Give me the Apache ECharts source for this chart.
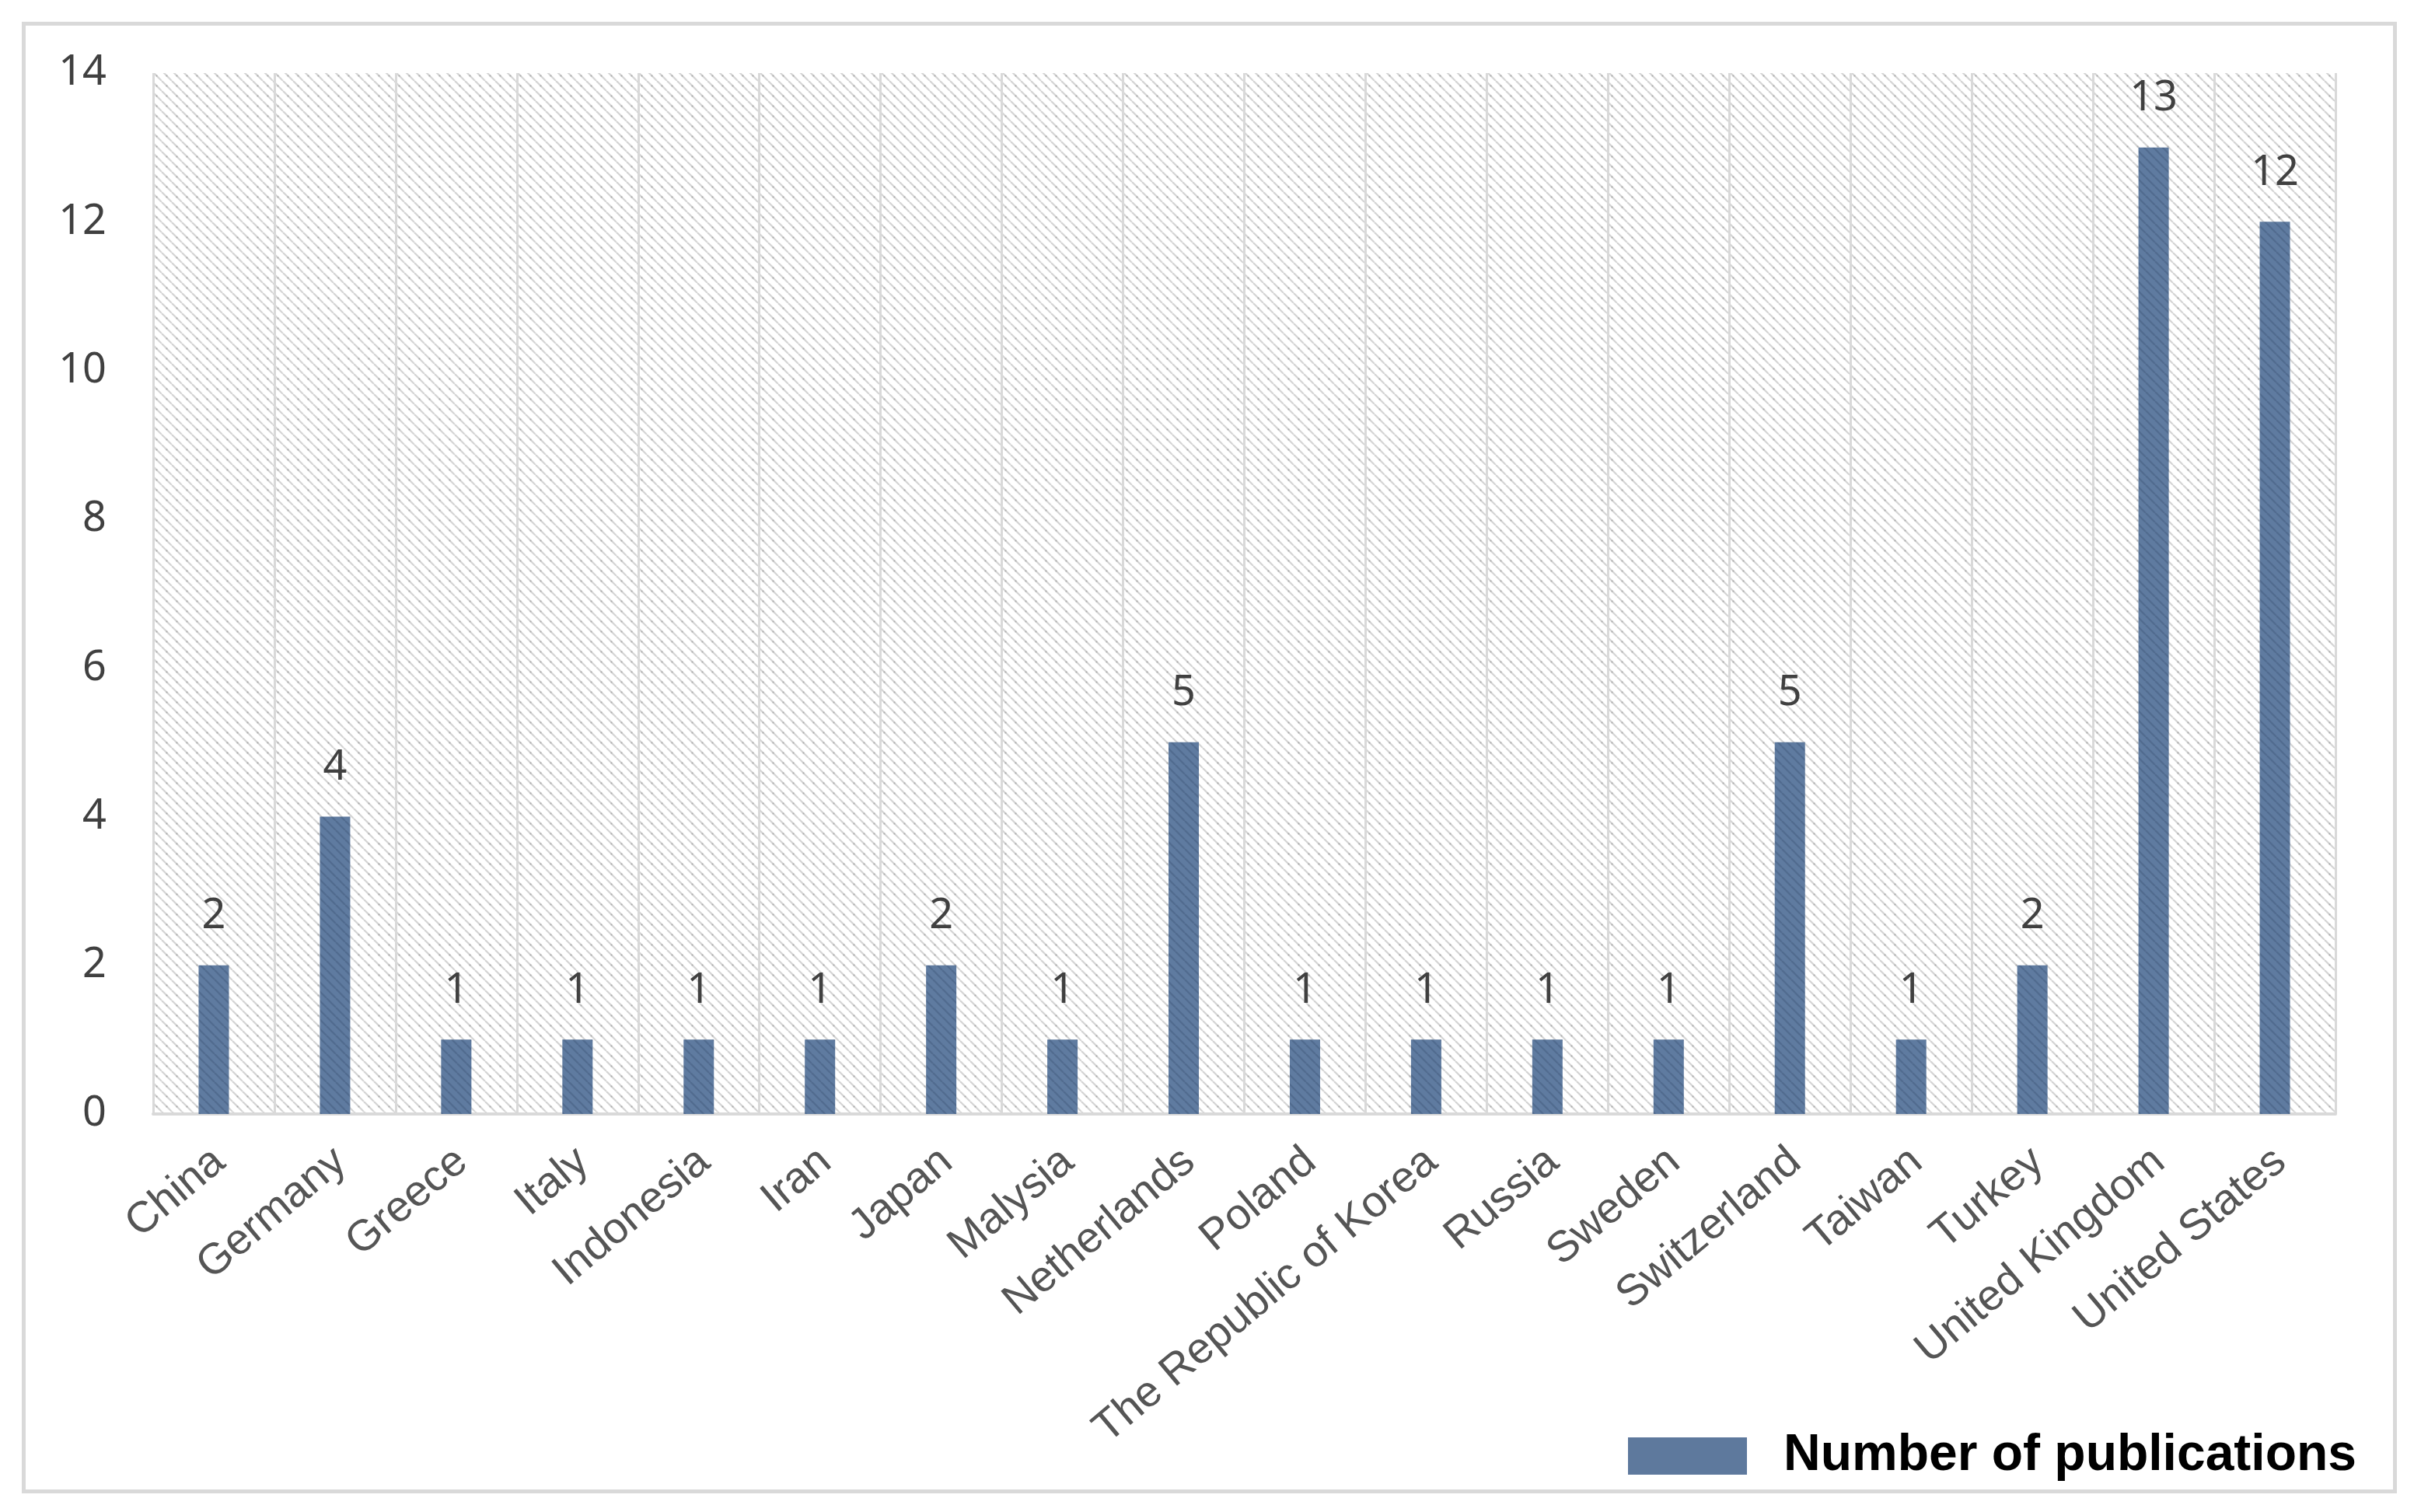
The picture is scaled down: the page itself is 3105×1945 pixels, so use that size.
<!DOCTYPE html>
<html>
<head>
<meta charset="utf-8">
<script src="https://cdn.jsdelivr.net/npm/echarts@6/dist/echarts.min.js"></script>
<style>
html,body{margin:0;padding:0;background:#fff;}
#chart{width:3105px;height:1945px;}
</style>
</head>
<body>
<div id="chart"></div>
<script>
const categories = ['China','Germany','Greece','Italy','Indonesia','Iran','Japan','Malysia','Netherlands','Poland','The Republic of Korea','Russia','Sweden','Switzerland','Taiwan','Turkey','United Kingdom','United States'];
const publications = [2,4,1,1,1,1,2,1,5,1,1,1,1,5,1,2,13,12];
const yTicks = [0,2,4,6,8,10,12,14];
const seriesName = 'Number of publications';

function hatch(size, bg, line, lw, dot) {
  const c = document.createElement('canvas');
  c.width = size; c.height = size;
  const g = c.getContext('2d');
  g.fillStyle = bg; g.fillRect(0,0,size,size);
  g.strokeStyle = line; g.lineWidth = lw;
  for (let k = -1; k <= 1; k++) {
    g.beginPath();
    g.moveTo(k*size, 0);
    g.lineTo(k*size + size, size);
    g.stroke();
  }
  if (dot) {
    g.fillStyle = dot;
    g.fillRect(size/2-1, size/2-1, 2, 2);
  }
  return c;
}

const chart = echarts.init(document.getElementById('chart'));
chart.setOption({
  backgroundColor: '#ffffff',
  animation: false,
  graphic: [{
    type: 'rect', left: 28, top: 28,
    shape: {width: 3050, height: 1888},
    style: {fill: 'none', stroke: '#d9d9d9', lineWidth: 5},
    z: -10
  }],
  grid: {
    left: 197, right: 101, top: 94, bottom: 512,
    show: true, borderWidth: 0,
    backgroundColor: {image: hatch(13, '#ffffff', 'rgba(170,170,170,0.5)', 2.2, 'rgba(150,150,150,0.6)'), repeat: 'repeat'}
  },
  legend: {
    left: 2089, top: 1835,
    itemWidth: 153, itemHeight: 48,
    icon: 'rect',
    data: [{name: seriesName, itemStyle: {color: '#5e799d'}}],
    textStyle: {fontFamily: 'Liberation Sans', fontWeight: 'bold', fontSize: 66, color: '#000', padding: [0,0,0,42]}
  },
  xAxis: {
    type: 'category',
    data: categories,
    boundaryGap: true,
    axisLine: {show: true, lineStyle: {color: '#d9d9d9', width: 4}},
    axisTick: {show: false},
    splitLine: {show: true, interval: 0, lineStyle: {color: '#d9d9d9', width: 3}},
    axisLabel: {
      interval: 0, rotate: 40, margin: 24,
      verticalAlign: 'top', padding: [0, 14, 0, 0],
      fontFamily: 'Liberation Sans', fontSize: 56, color: '#555555'
    }
  },
  yAxis: {
    type: 'value', min: 0, max: 14, interval: 2,
    axisLine: {show: false}, axisTick: {show: false},
    splitLine: {show: false},
    axisLabel: {
      margin: 60, fontFamily: 'Noto Sans', fontSize: 54, color: '#404040',
      formatter: v => yTicks.includes(v) ? String(v) : ''
    }
  },
  series: [{
    name: seriesName,
    type: 'bar',
    data: publications,
    barWidth: '25%',
    itemStyle: {color: {image: hatch(12, '#5f7ba0', 'rgba(40,60,90,0.25)', 2.2, null), repeat: 'repeat'}},
    label: {
      show: true, position: 'top', distance: 36,
      fontFamily: 'Noto Sans', fontSize: 54, color: '#404040'
    }
  }]
});
</script>
</body>
</html>
